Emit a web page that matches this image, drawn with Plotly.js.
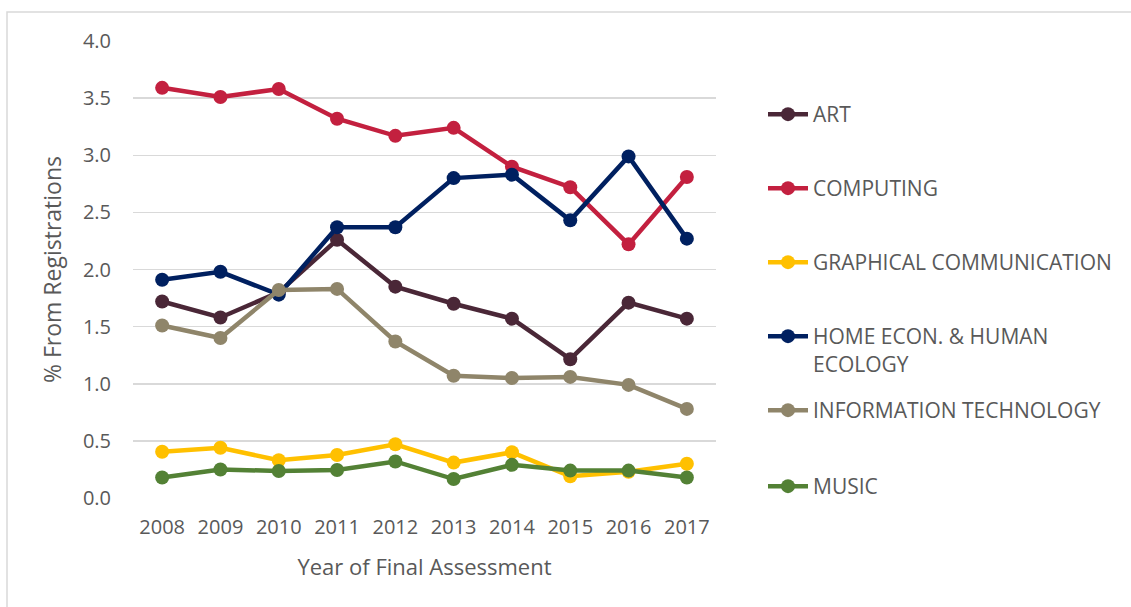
<!DOCTYPE html>
<html>
<head>
<meta charset="utf-8">
<script src="https://cdn.plot.ly/plotly-3.0.1.min.js"></script>
<style>html,body{margin:0;padding:0;background:#fff;}#chart{width:1131px;height:607px;}</style>
</head>
<body>
<div id="chart"></div>
<script>
var years = ["2008","2009","2010","2011","2012","2013","2014","2015","2016","2017"];
var art        = [1.72, 1.58, 1.80, 2.26, 1.85, 1.70, 1.57, 1.215, 1.71, 1.57];
var computing  = [3.59, 3.51, 3.58, 3.32, 3.17, 3.24, 2.90, 2.72, 2.22, 2.81];
var graphical  = [0.405, 0.44, 0.33, 0.376, 0.47, 0.31, 0.40, 0.19, 0.23, 0.30];
var homeEcon   = [1.91, 1.98, 1.78, 2.37, 2.37, 2.80, 2.83, 2.43, 2.99, 2.27];
var infoTech   = [1.51, 1.40, 1.82, 1.83, 1.37, 1.07, 1.05, 1.06, 0.99, 0.78];
var music      = [0.18, 0.25, 0.236, 0.245, 0.32, 0.166, 0.29, 0.24, 0.24, 0.18];
var seriesNames = ["ART", "COMPUTING", "GRAPHICAL COMMUNICATION", "HOME ECON. &amp; HUMAN<br>ECOLOGY", "INFORMATION TECHNOLOGY", "MUSIC"];
var seriesColors = ["#4A2737", "#C3203F", "#FFC000", "#002060", "#8F856A", "#538135"];
var seriesValues = [art, computing, graphical, homeEcon, infoTech, music];

var fontFam = "'Open Sans', 'DejaVu Sans', sans-serif";
var textCol = "#595959";

// plot area pixel geometry
var L = 133, R = 716, T = 41, B = 498, W = 1131, H = 607;
var pw = R - L, ph = B - T;
function px(x){ return (x - L) / pw; }
function py(y){ return (B - y) / ph; }

var legendCenters = [109, 183, 257, 331, 405, 481];

var traces = seriesValues.map(function(v, i){
  return {
    type: "scatter", mode: "lines+markers",
    x: years, y: v, name: seriesNames[i],
    line: {color: seriesColors[i], width: 4.5},
    marker: {color: seriesColors[i], size: 14},
    legend: i === 0 ? "legend" : "legend" + (i + 1)
  };
});

var layout = {
  width: W, height: H,
  margin: {l: L, r: W - R, t: T, b: H - B},
  paper_bgcolor: "#ffffff", plot_bgcolor: "#ffffff",
  font: {family: fontFam, color: textCol, size: 20},
  showlegend: true,
  xaxis: {
    type: "category", range: [-0.5, 9.5],
    showgrid: false, zeroline: false, showline: false, ticks: "",
    tickfont: {size: 20, color: textCol},
    ticklabelstandoff: 15,
    title: {text: "Year of Final Assessment", font: {size: 22, color: textCol}, standoff: 20}
  },
  yaxis: {
    range: [0, 4.0], dtick: 0.5, tickformat: ".1f",
    showgrid: true, gridcolor: "#d9d9d9", gridwidth: 1.5,
    zeroline: false, showline: false, ticks: "",
    tickfont: {size: 20, color: textCol},
    ticklabelstandoff: 21,
    title: {text: "% From Registrations", font: {size: 23, color: textCol}, standoff: 14}
  },
  shapes: [{
    type: "rect", xref: "paper", yref: "paper", layer: "below",
    x0: px(7), x1: px(1145), y0: py(620), y1: py(12),
    line: {color: "#d9d9d9", width: 1.5}, fillcolor: "rgba(0,0,0,0)"
  }]
};

legendCenters.forEach(function(cy, i){
  var key = i === 0 ? "legend" : "legend" + (i + 1);
  layout[key] = {
    x: px(763), xanchor: "left",
    y: py(cy - 15), yanchor: "top",
    valign: "top",
    bgcolor: "rgba(0,0,0,0)", borderwidth: 0,
    font: {size: 21, color: textCol, family: fontFam},
    itemwidth: 40
  };
});

Plotly.newPlot("chart", traces, layout, {displayModeBar: false, staticPlot: true});
</script>
</body>
</html>
